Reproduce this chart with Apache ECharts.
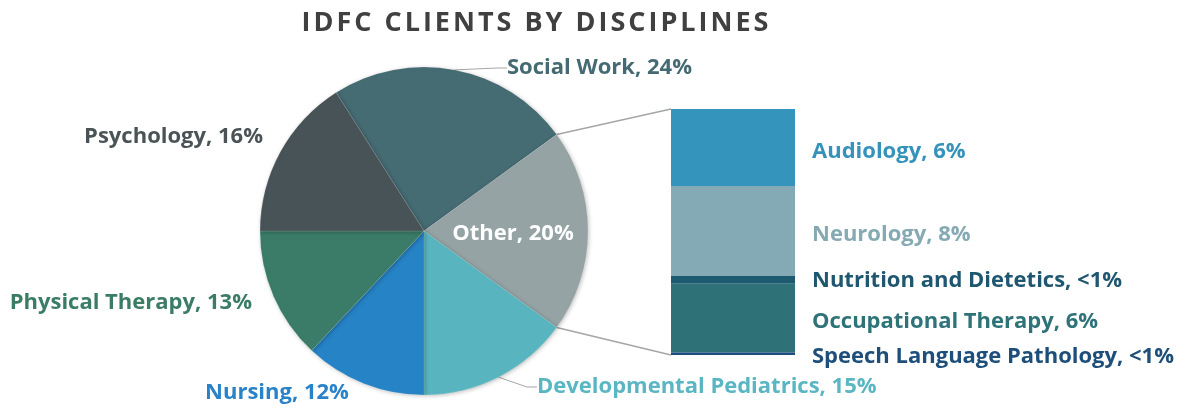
<!DOCTYPE html>
<html>
<head>
<meta charset="utf-8">
<script src="https://cdn.jsdelivr.net/npm/echarts@6/dist/echarts.min.js"></script>
<style>
html, body { margin: 0; padding: 0; background: #fff; }
#wrap { position: relative; width: 1191px; height: 409px; }
#chart { width: 1191px; height: 409px; }
#title {
  position: absolute; left: 0; top: 7px; width: 1073px;
  text-align: center; font-family: "Open Sans", sans-serif; font-weight: bold;
  font-size: 27px; line-height: 27px; letter-spacing: 3px; color: #404040;
}
</style>
</head>
<body>
<div id="wrap">
  <div id="chart"></div>
  <div id="title">IDFC CLIENTS BY DISCIPLINES</div>
</div>
<script>
// pie (main) data
var pieNames = ['Social Work', 'Other', 'Developmental Pediatrics', 'Nursing', 'Physical Therapy', 'Psychology']
var pieValues = [24, 20, 15, 12, 13, 16]
var pieColors = ['#456b73', '#95a3a4', '#58b5c0', '#2683c6', '#3a7c67', '#475356']
var pieLabelColors = ['#466a74', '#ffffff', '#5ab6c2', '#2a82c8', '#3b7d64', '#4a5456']

// stacked bar (breakdown of "Other")
var barNames = ['Audiology', 'Neurology', 'Nutrition and Dietetics', 'Occupational Therapy', 'Speech Language Pathology']
var barValues = [6.25, 7.3, 0.65, 5.6, 0.2]
var barLabels = ['6%', '8%', '<1%', '6%', '<1%']
var barColors = ['#3594bb', '#84abb5', '#1f5b70', '#2e7277', '#1c4e80']
var barLabelColors = ['#3593bb', '#86aab4', '#1f5670', '#2e7378', '#1e4f7a']
var barLabelShift = [4, 4, 1, 4, 3]

var total = pieValues.reduce(function (a, b) { return a + b }, 0)
var barTotal = barValues.reduce(function (a, b) { return a + b }, 0)

// geometry
var cx = 424, cy = 231, R = 164
// centre the "Other" slice on 3 o'clock
var startAngle = 360 * (pieValues[0] + pieValues[1] / 2) / total
var grid = { left: 671, top: 109, width: 124, height: 246 }

// where each outside pie label goes
var labelPos = [
  { x: 507, y: 68, align: 'left' },
  null,
  { x: 537, y: 387, align: 'left' },
  { x: 277, y: 393, align: 'center' },
  { x: 252, y: 303, align: 'right' },
  { x: 263, y: 137, align: 'right' }
]

var font = '"Open Sans", sans-serif'
var fontSize = 22

var pieData = pieNames.map(function (n, i) {
  var item = {
    name: n,
    value: pieValues[i],
    itemStyle: { color: pieColors[i] },
    label: { color: pieLabelColors[i] }
  }
  if (i === 1) {
    item.label.position = 'inside'
    item.label.offset = [4, 3]
  }
  if (i === 0 || i === 2) {
    item.labelLine = { show: true }
  }
  return item
})

var series = [{
  type: 'pie',
  center: [cx, cy],
  radius: R,
  startAngle: startAngle,
  clockwise: true,
  silent: true,
  animation: false,
  data: pieData,
  itemStyle: {
    borderColor: 'rgba(255,255,255,0.25)',
    borderWidth: 0.5,
    shadowBlur: 4,
    shadowOffsetX: 1,
    shadowOffsetY: 1,
    shadowColor: 'rgba(0,0,0,0.25)'
  },
  label: {
    show: true,
    position: 'outside',
    overflow: 'none',
    fontFamily: font,
    fontWeight: 'bold',
    fontSize: fontSize,
    formatter: function (p) { return p.name + ', ' + p.value + '%' }
  },
  labelLine: {
    show: false,
    length: 10,
    length2: 10,
    lineStyle: { color: '#a6a6a6', width: 1 }
  },
  labelLayout: function (p) {
    var pos = labelPos[p.dataIndex]
    if (!pos) return {}
    return { x: pos.x, y: pos.y, align: pos.align, verticalAlign: 'middle' }
  }
}]

barNames.forEach(function (n, i) {
  series.push({
    type: 'bar',
    name: n,
    stack: 'other',
    barWidth: '100%',
    silent: true,
    animation: false,
    data: [barValues[i]],
    itemStyle: { color: barColors[i] },
    label: {
      show: true,
      position: 'right',
      distance: 17,
      offset: [0, barLabelShift[i]],
      color: barLabelColors[i],
      fontFamily: font,
      fontWeight: 'bold',
      fontSize: fontSize,
      formatter: function () { return n + ', ' + barLabels[i] }
    }
  })
})

// connector lines from the "Other" slice edges to the bar corners
var a1 = (startAngle - 360 * pieValues[0] / total) * Math.PI / 180
var a2 = (startAngle - 360 * (pieValues[0] + pieValues[1]) / total) * Math.PI / 180
var p1 = [cx + R * Math.cos(a1), cy - R * Math.sin(a1)]
var p2 = [cx + R * Math.cos(a2), cy - R * Math.sin(a2)]
var lineStyle = { stroke: '#a6a6a6', lineWidth: 1.5 }

var chart = echarts.init(document.getElementById('chart'))
chart.setOption({
  animation: false,
  grid: grid,
  xAxis: { type: 'category', data: ['Other'], show: false },
  yAxis: { type: 'value', min: 0, max: barTotal, inverse: true, show: false },
  series: series,
  graphic: [
    { type: 'line', silent: true, z: 0, shape: { x1: p1[0], y1: p1[1], x2: grid.left, y2: grid.top }, style: lineStyle },
    { type: 'line', silent: true, z: 0, shape: { x1: p2[0], y1: p2[1], x2: grid.left, y2: grid.top + grid.height }, style: lineStyle }
  ]
})
</script>
</body>
</html>
